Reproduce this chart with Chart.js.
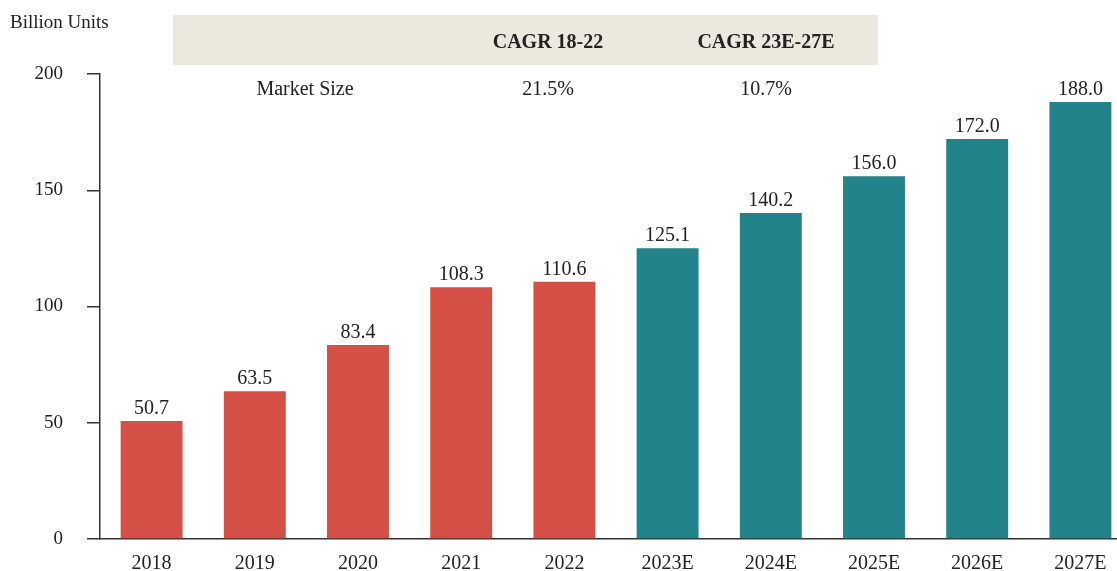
<!DOCTYPE html>
<html>
<head>
<meta charset="utf-8">
<script src="https://cdn.jsdelivr.net/npm/chart.js@4.4.0/dist/chart.umd.min.js"></script>
<style>
  html, body { margin: 0; padding: 0; overflow: hidden; background: #fff; }
  #wrap { position: relative; width: 1117px; height: 571px; overflow: hidden; font-family: "Liberation Serif", "Times New Roman", serif; color: #222; }
  #caixa { position: absolute; left: 0; top: 0; width: 1132px; height: 571px; }
  .txt { position: absolute; font-size: 20px; line-height: 22px; white-space: nowrap; transform: translateX(-50%); }
  #banda { position: absolute; left: 173px; top: 15px; width: 705px; height: 50px; background: #ebe8dd; }
  #unidade { position: absolute; left: 10px; top: 11px; font-size: 19px; line-height: 22px; }
</style>
</head>
<body>
<div id="wrap">
  <div id="caixa"><canvas id="grafico"></canvas></div>
  <div id="banda"></div>
  <div id="unidade">Billion Units</div>
  <div class="txt" style="left:548px; top:30px; font-weight:bold;">CAGR 18-22</div>
  <div class="txt" style="left:766px; top:30px; font-weight:bold;">CAGR 23E-27E</div>
  <div class="txt" style="left:305px; top:77px;">Market Size</div>
  <div class="txt" style="left:548px; top:77px;">21.5%</div>
  <div class="txt" style="left:766px; top:77px;">10.7%</div>
</div>
<script>
const anos = ["2018", "2019", "2020", "2021", "2022", "2023E", "2024E", "2025E", "2026E", "2027E"];
const tamanhoMercado = [50.7, 63.5, 83.4, 108.3, 110.6, 125.1, 140.2, 156.0, 172.0, 188.0];
const previsao = [false, false, false, false, false, true, true, true, true, true];

const corHistorico = "#d44f45";
const corPrevisao = "#22838a";
const fonte = "'Liberation Serif', 'Times New Roman', serif";

// escreve o valor em cima de cada barra
const rotulos = {
  id: "rotulos",
  afterDatasetsDraw(chart) {
    const ctx = chart.ctx;
    const meta = chart.getDatasetMeta(0);
    ctx.save();
    ctx.font = "20px " + fonte;
    ctx.fillStyle = "#222";
    ctx.textAlign = "center";
    ctx.textBaseline = "alphabetic";
    meta.data.forEach((barra, i) => {
      ctx.fillText(tamanhoMercado[i].toFixed(1), barra.x, barra.y - 7);
    });
    ctx.restore();
  },
};

const grafico = new Chart(document.getElementById("grafico"), {
  type: "bar",
  data: {
    labels: anos,
    datasets: [
      {
        label: "Market Size",
        data: tamanhoMercado,
        backgroundColor: previsao.map((p) => (p ? corPrevisao : corHistorico)),
        barPercentage: 0.6,
        categoryPercentage: 1,
      },
    ],
  },
  options: {
    responsive: true,
    maintainAspectRatio: false,
    animation: false,
    layout: { padding: { top: 74, right: 0, bottom: 0, left: 0 } },
    plugins: { legend: { display: false }, tooltip: { enabled: false } },
    scales: {
      x: {
        grid: { display: false },
        border: { display: true, color: "#333", width: 1.5 },
        ticks: { color: "#222", font: { family: fonte, size: 20 }, padding: 5 },
        afterFit: (s) => { s.height = 32; },
      },
      y: {
        min: 0,
        max: 200,
        ticks: { stepSize: 50, color: "#222", font: { family: fonte, size: 19 }, padding: 24 },
        grid: { drawOnChartArea: false, drawTicks: true, tickLength: 13, color: "#333", lineWidth: 1.5 },
        border: { display: true, color: "#333", width: 1.5 },
        afterFit: (s) => {
          s.width = 100;
          // o padding dos rótulos empurrava o eixo x para cima
          s.paddingTop = 0;
          s.paddingBottom = 0;
        },
      },
    },
  },
  plugins: [rotulos],
});
</script>
</body>
</html>
